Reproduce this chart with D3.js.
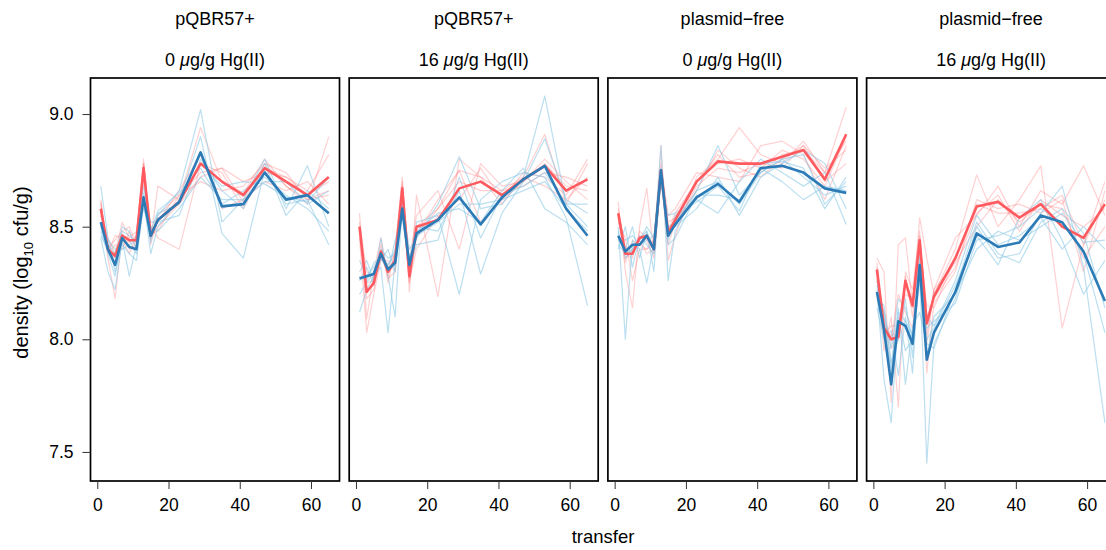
<!DOCTYPE html>
<meta charset="utf-8">
<style>

body {
  margin: 0;
  background: #fff;
}

text {
  font-family: "Liberation Sans", Arial, Helvetica, sans-serif;
  fill: #000;
}

.strip {
  font-size: 18px;
  text-anchor: middle;
}

.axis text {
  font-size: 17.5px;
}

.axis line {
  stroke: #333;
}

.frame {
  fill: none;
  stroke: #000;
  stroke-width: 1.7px;
}

.rep {
  fill: none;
  stroke-width: 1.2px;
  stroke-linejoin: round;
}

.mean {
  fill: none;
  stroke-width: 2.6px;
  stroke-linejoin: round;
}

</style>
<svg width="1106" height="550"></svg>
<script src="https://d3js.org/d3.v7.min.js"></script>
<script>

// sampling points
var transfers = [1, 3, 5, 7, 9, 11, 13, 15, 17, 23, 29, 35, 41, 47, 53, 59, 65];

// strip labels, one per panel
var stripConstruct = ["pQBR57+", "pQBR57+", "plasmid\u2212free", "plasmid\u2212free"];
var stripDose = ["0", "16", "0", "16"];

var xTicks = [0, 20, 40, 60];
var yTicks = [7.5, 8.0, 8.5, 9.0];

// thick lines (means), one array per panel
var redMean = [
  [8.58, 8.40, 8.37, 8.46, 8.44, 8.44, 8.76, 8.46, 8.53, 8.61, 8.78, 8.70, 8.64, 8.76, 8.70, 8.64, 8.72],
  [8.50, 8.21, 8.25, 8.39, 8.30, 8.35, 8.67, 8.28, 8.50, 8.53, 8.67, 8.70, 8.64, 8.71, 8.77, 8.66, 8.71],
  [8.56, 8.38, 8.38, 8.45, 8.46, 8.40, 8.75, 8.47, 8.53, 8.70, 8.79, 8.78, 8.78, 8.81, 8.84, 8.71, 8.91],
  [8.31, 8.05, 8.00, 8.01, 8.26, 8.15, 8.44, 8.07, 8.19, 8.36, 8.59, 8.61, 8.54, 8.60, 8.50, 8.45, 8.60]
];
var blueMean = [
  [8.52, 8.40, 8.33, 8.45, 8.41, 8.40, 8.63, 8.46, 8.53, 8.61, 8.83, 8.59, 8.60, 8.74, 8.62, 8.64, 8.56],
  [8.27, 8.28, 8.29, 8.38, 8.31, 8.34, 8.58, 8.33, 8.47, 8.53, 8.63, 8.51, 8.63, 8.71, 8.77, 8.58, 8.46],
  [8.46, 8.39, 8.42, 8.42, 8.46, 8.40, 8.75, 8.46, 8.51, 8.63, 8.69, 8.61, 8.76, 8.77, 8.74, 8.67, 8.65],
  [8.21, 8.04, 7.80, 8.08, 8.06, 7.98, 8.33, 7.91, 8.03, 8.21, 8.47, 8.41, 8.43, 8.55, 8.52, 8.39, 8.17]
];

// thin lines (single replicates)
var redRepsP1 = [
  [8.62, 8.36, 8.18, 8.47, 8.40, 8.42, 8.80, 8.44, 8.68, 8.62, 8.94, 8.70, 8.65, 8.80, 8.68, 8.60, 8.90],
  [8.55, 8.45, 8.38, 8.52, 8.45, 8.48, 8.70, 8.50, 8.45, 8.40, 8.78, 8.74, 8.58, 8.76, 8.72, 8.66, 8.82],
  [8.60, 8.38, 8.42, 8.40, 8.48, 8.40, 8.74, 8.42, 8.55, 8.64, 8.70, 8.66, 8.68, 8.78, 8.74, 8.62, 8.64],
  [8.52, 8.42, 8.34, 8.44, 8.38, 8.46, 8.78, 8.48, 8.52, 8.66, 8.82, 8.58, 8.62, 8.70, 8.66, 8.70, 8.60],
  [8.58, 8.40, 8.44, 8.48, 8.50, 8.42, 8.76, 8.45, 8.50, 8.60, 8.72, 8.76, 8.70, 8.74, 8.72, 8.64, 8.70],
  [8.61, 8.39, 8.46, 8.45, 8.43, 8.46, 8.78, 8.47, 8.48, 8.64, 8.74, 8.76, 8.61, 8.78, 8.68, 8.62, 8.66]
];
var blueRepsP1 = [
  [8.68, 8.45, 8.30, 8.42, 8.38, 8.35, 8.60, 8.45, 8.55, 8.66, 9.02, 8.52, 8.62, 8.80, 8.58, 8.77, 8.50],
  [8.45, 8.30, 8.22, 8.44, 8.28, 8.42, 8.62, 8.38, 8.50, 8.62, 8.90, 8.47, 8.36, 8.75, 8.60, 8.62, 8.42],
  [8.50, 8.42, 8.38, 8.48, 8.46, 8.43, 8.68, 8.50, 8.48, 8.58, 8.72, 8.62, 8.62, 8.70, 8.70, 8.60, 8.66],
  [8.48, 8.38, 8.28, 8.46, 8.44, 8.38, 8.65, 8.52, 8.52, 8.55, 8.80, 8.66, 8.58, 8.78, 8.55, 8.66, 8.58],
  [8.55, 8.44, 8.40, 8.40, 8.42, 8.44, 8.58, 8.48, 8.57, 8.65, 8.76, 8.60, 8.66, 8.72, 8.64, 8.58, 8.48],
  [8.46, 8.40, 8.36, 8.50, 8.48, 8.40, 8.63, 8.43, 8.56, 8.60, 8.78, 8.68, 8.70, 8.69, 8.63, 8.61, 8.72]
];

var redRepsP2 = [
  [8.56, 8.09, 8.30, 8.45, 8.25, 8.40, 8.72, 8.21, 8.64, 8.19, 8.80, 8.72, 8.60, 8.72, 8.91, 8.60, 8.78],
  [8.45, 8.03, 8.20, 8.35, 8.35, 8.30, 8.66, 8.35, 8.55, 8.66, 8.40, 8.78, 8.68, 8.70, 8.80, 8.70, 8.62],
  [8.52, 8.30, 8.28, 8.42, 8.28, 8.38, 8.62, 8.25, 8.46, 8.62, 8.75, 8.52, 8.62, 8.74, 8.72, 8.64, 8.80],
  [8.48, 8.22, 8.24, 8.36, 8.32, 8.34, 8.68, 8.30, 8.50, 8.58, 8.70, 8.66, 8.66, 8.68, 8.74, 8.72, 8.68],
  [8.50, 8.18, 8.22, 8.40, 8.27, 8.30, 8.64, 8.26, 8.40, 8.55, 8.62, 8.76, 8.62, 8.70, 8.78, 8.68, 8.66],
  [8.50, 8.25, 8.26, 8.36, 8.33, 8.38, 8.70, 8.32, 8.45, 8.58, 8.75, 8.72, 8.66, 8.72, 8.68, 8.62, 8.72]
];
var blueRepsP2 = [
  [8.20, 8.25, 8.30, 8.35, 8.40, 8.30, 8.60, 8.40, 8.45, 8.60, 8.81, 8.58, 8.60, 8.72, 9.08, 8.60, 8.50],
  [8.12, 8.22, 8.28, 8.32, 8.03, 8.35, 8.55, 8.30, 8.52, 8.55, 8.20, 8.62, 8.70, 8.74, 8.72, 8.54, 8.15],
  [8.30, 8.35, 8.26, 8.45, 8.28, 8.10, 8.60, 8.35, 8.50, 8.48, 8.66, 8.29, 8.56, 8.70, 8.89, 8.62, 8.56],
  [8.35, 8.28, 8.32, 8.38, 8.33, 8.40, 8.62, 8.28, 8.48, 8.56, 8.58, 8.52, 8.66, 8.76, 8.58, 8.52, 8.42],
  [8.26, 8.32, 8.24, 8.40, 8.36, 8.38, 8.57, 8.32, 8.42, 8.44, 8.72, 8.45, 8.64, 8.68, 8.74, 8.60, 8.60],
  [8.28, 8.26, 8.34, 8.36, 8.30, 8.44, 8.56, 8.36, 8.46, 8.52, 8.60, 8.60, 8.62, 8.66, 8.70, 8.58, 8.48]
];

var redRepsP3 = [
  [8.61, 8.30, 8.14, 8.50, 8.67, 8.38, 8.86, 8.35, 8.46, 8.72, 8.80, 8.94, 8.82, 8.78, 8.88, 8.74, 9.03],
  [8.52, 8.45, 8.26, 8.40, 8.40, 8.44, 8.78, 8.55, 8.58, 8.74, 8.72, 8.70, 8.86, 8.88, 8.82, 8.62, 8.86],
  [8.55, 8.36, 8.40, 8.46, 8.44, 8.36, 8.72, 8.42, 8.52, 8.66, 8.84, 8.76, 8.72, 8.80, 8.86, 8.70, 8.78],
  [8.58, 8.40, 8.42, 8.44, 8.38, 8.40, 8.74, 8.48, 8.56, 8.70, 8.78, 8.80, 8.76, 8.84, 8.80, 8.68, 8.90],
  [8.54, 8.34, 8.44, 8.42, 8.40, 8.42, 8.70, 8.50, 8.50, 8.68, 8.76, 8.74, 8.78, 8.76, 8.86, 8.76, 8.84],
  [8.56, 8.38, 8.36, 8.48, 8.45, 8.42, 8.72, 8.52, 8.54, 8.70, 8.82, 8.72, 8.74, 8.82, 8.84, 8.74, 8.88]
];
var blueRepsP3 = [
  [8.50, 8.00, 8.44, 8.40, 8.25, 8.42, 8.86, 8.26, 8.48, 8.66, 8.86, 8.64, 8.74, 8.80, 8.82, 8.60, 8.70],
  [8.40, 8.50, 8.32, 8.46, 8.42, 8.38, 8.70, 8.55, 8.56, 8.62, 8.56, 8.70, 8.80, 8.74, 8.68, 8.74, 8.51],
  [8.44, 8.40, 8.50, 8.36, 8.48, 8.30, 8.76, 8.48, 8.50, 8.58, 8.72, 8.55, 8.72, 8.78, 8.84, 8.78, 8.58],
  [8.48, 8.36, 8.40, 8.44, 8.50, 8.45, 8.72, 8.42, 8.45, 8.64, 8.64, 8.62, 8.76, 8.70, 8.62, 8.68, 8.66],
  [8.46, 8.44, 8.46, 8.42, 8.44, 8.46, 8.74, 8.44, 8.55, 8.61, 8.68, 8.57, 8.78, 8.79, 8.76, 8.58, 8.72],
  [8.42, 8.38, 8.40, 8.45, 8.48, 8.40, 8.70, 8.50, 8.52, 8.66, 8.70, 8.60, 8.74, 8.80, 8.72, 8.64, 8.68]
];

var redRepsP4 = [
  [8.36, 8.30, 7.72, 8.42, 8.45, 8.15, 8.54, 8.36, 8.20, 8.40, 8.73, 8.50, 8.62, 8.77, 8.05, 8.42, 8.62],
  [8.28, 7.95, 8.10, 7.70, 8.30, 8.22, 8.48, 8.02, 8.22, 8.45, 8.55, 8.68, 8.50, 8.66, 8.60, 8.77, 8.55],
  [8.32, 8.08, 8.00, 8.20, 8.12, 8.05, 8.40, 7.85, 8.16, 8.30, 8.62, 8.58, 8.60, 8.56, 8.62, 8.30, 8.66],
  [8.26, 8.12, 7.96, 8.00, 8.28, 8.10, 8.46, 8.10, 8.18, 8.32, 8.56, 8.64, 8.48, 8.62, 8.55, 8.50, 8.58],
  [8.34, 8.02, 8.06, 8.06, 8.20, 8.18, 8.42, 8.15, 8.14, 8.36, 8.60, 8.56, 8.56, 8.58, 8.64, 8.42, 8.70],
  [8.30, 8.04, 8.02, 8.02, 8.24, 8.14, 8.38, 7.98, 8.22, 8.34, 8.50, 8.62, 8.52, 8.60, 8.58, 8.36, 8.50]
];
var blueRepsP4 = [
  [8.22, 7.82, 7.63, 8.10, 7.95, 8.00, 8.30, 7.45, 7.98, 8.18, 8.50, 8.36, 8.38, 8.56, 8.68, 8.32, 7.63],
  [8.18, 8.15, 7.90, 8.00, 8.18, 7.92, 8.38, 8.05, 8.08, 8.16, 8.44, 8.46, 8.50, 8.58, 8.52, 8.38, 8.03],
  [8.26, 8.10, 7.88, 8.14, 7.80, 8.06, 8.12, 7.98, 7.96, 8.22, 8.52, 8.38, 8.34, 8.52, 8.58, 8.47, 8.14],
  [8.14, 8.00, 8.04, 7.84, 8.10, 7.85, 8.36, 8.00, 8.05, 8.24, 8.46, 8.33, 8.54, 8.62, 8.44, 8.20, 8.35],
  [8.24, 8.06, 7.86, 8.12, 8.08, 8.02, 8.32, 7.92, 8.10, 8.20, 8.40, 8.48, 8.44, 8.50, 8.56, 8.43, 8.44],
  [8.20, 8.12, 7.96, 8.18, 8.14, 8.00, 8.25, 8.10, 8.06, 8.26, 8.55, 8.42, 8.46, 8.54, 8.40, 8.50, 8.40]
];

var redReps = [redRepsP1, redRepsP2, redRepsP3, redRepsP4];
var blueReps = [blueRepsP1, blueRepsP2, blueRepsP3, blueRepsP4];

var redColor = "#ff5a5f",
    blueColor = "#2c7bb6",
    redLight = "#ff5a5f",
    blueLight = "#8ecae6";

var svg = d3.select("svg"),
    marginLeft = 90.5,
    marginTop = 78,
    panelW = 249,
    panelH = 403,
    gap = 9.7;

var x = d3.scaleLinear().domain([-1.9, 68]).range([0, panelW]);
var y = d3.scaleLinear().domain([7.371, 9.16]).range([panelH, 0]);

var line = d3.line()
    .x(function(d, i) { return x(transfers[i]); })
    .y(function(d) { return y(d); });

stripConstruct.forEach(function(name, p) {
  var g = svg.append("g")
      .attr("transform", "translate(" + (marginLeft + p * (panelW + gap)) + "," + marginTop + ")");

  // strip titles above the panel
  g.append("text")
      .attr("class", "strip")
      .attr("x", panelW / 2)
      .attr("y", -53)
      .text(name);

  var dose = g.append("text")
      .attr("class", "strip")
      .attr("x", panelW / 2)
      .attr("y", -12);
  dose.append("tspan").text(stripDose[p] + " ");
  dose.append("tspan").style("font-style", "italic").text("\u03bc");
  dose.append("tspan").text("g/g Hg(II)");

  // replicate lines
  g.selectAll(".rep-red")
    .data(redReps[p])
    .enter().append("path")
      .attr("class", "rep rep-red")
      .attr("d", line)
      .style("stroke", redLight)
      .style("stroke-opacity", 0.28);

  g.selectAll(".rep-blue")
    .data(blueReps[p])
    .enter().append("path")
      .attr("class", "rep rep-blue")
      .attr("d", line)
      .style("stroke", blueLight)
      .style("stroke-opacity", 0.6);

  // means
  g.append("path")
      .attr("class", "mean")
      .attr("d", line(redMean[p]))
      .style("stroke", redColor);

  g.append("path")
      .attr("class", "mean")
      .attr("d", line(blueMean[p]))
      .style("stroke", blueColor);

  g.append("rect")
      .attr("class", "frame")
      .attr("width", panelW)
      .attr("height", panelH);

  var xAxis = g.append("g")
      .attr("class", "axis")
      .attr("transform", "translate(0," + panelH + ")")
      .call(d3.axisBottom(x).tickValues(xTicks).tickSize(8).tickPadding(10));
  xAxis.select(".domain").remove();

  if (p === 0) {
    var yAxis = g.append("g")
        .attr("class", "axis")
        .call(d3.axisLeft(y).tickValues(yTicks).tickFormat(d3.format(".1f")).tickSize(8).tickPadding(9));
    yAxis.select(".domain").remove();
  }
});

// axis titles
svg.append("text")
    .attr("x", marginLeft + (4 * panelW + 3 * gap) / 2)
    .attr("y", 543)
    .attr("text-anchor", "middle")
    .style("font-size", "18.5px")
    .text("transfer");

var ylab = svg.append("text")
    .attr("transform", "translate(28," + (marginTop + panelH / 2 - 7) + ") rotate(-90)")
    .attr("text-anchor", "middle")
    .style("font-size", "20px");
ylab.append("tspan").text("density (log");
ylab.append("tspan").attr("dy", 5).style("font-size", "13px").text("10");
ylab.append("tspan").attr("dy", -5).text(" cfu/g)");

</script>
